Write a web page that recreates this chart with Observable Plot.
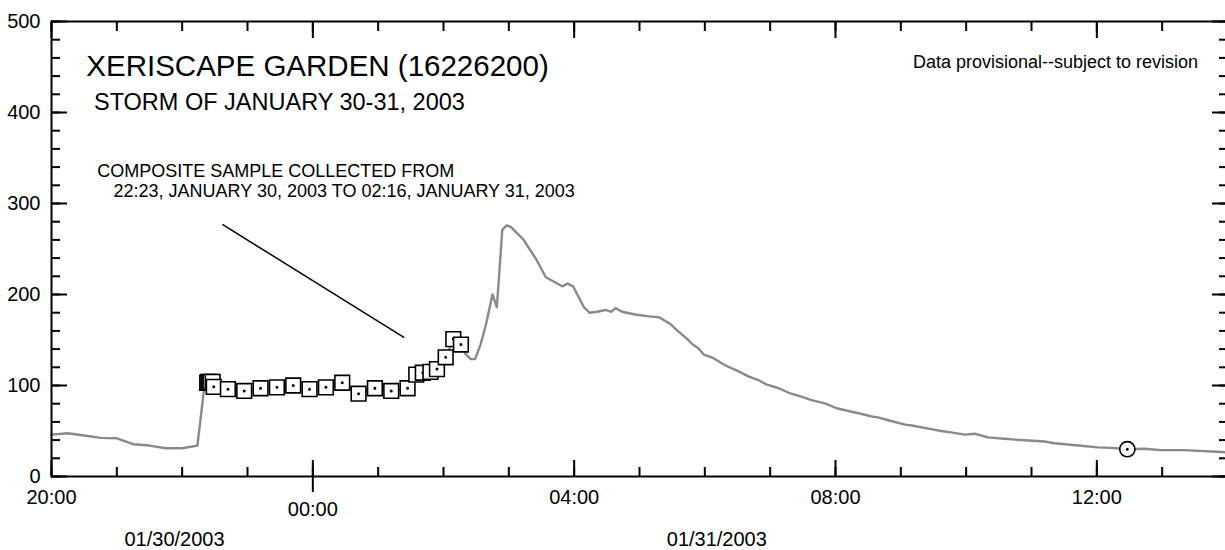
<!DOCTYPE html>
<html>
<head>
<meta charset="utf-8">
<script src="https://cdn.jsdelivr.net/npm/d3@7"></script>
<script src="https://cdn.jsdelivr.net/npm/@observablehq/plot@0.6"></script>
<style>
  body { margin: 0; background: #fff; overflow: hidden; }
  #chart { width: 1225px; height: 550px; overflow: hidden; }
</style>
</head>
<body>
<div id="chart"></div>
<script>
// discharge record, read as clock time (month-day hh:mm, 2003)
const flowTimes = [
  "01-30 20:00", "01-30 20:15", "01-30 20:30", "01-30 20:45", "01-30 21:00", "01-30 21:15",
  "01-30 21:30", "01-30 21:45", "01-30 22:00", "01-30 22:14", "01-30 22:20", "01-30 22:23",
  "01-30 22:29", "01-30 22:42", "01-30 22:57", "01-30 23:12", "01-30 23:27", "01-30 23:42",
  "01-30 23:57", "01-31 00:12", "01-31 00:27", "01-31 00:42", "01-31 00:57", "01-31 01:12",
  "01-31 01:27", "01-31 01:35", "01-31 01:41", "01-31 01:48", "01-31 01:54", "01-31 02:02",
  "01-31 02:09", "01-31 02:16", "01-31 02:20", "01-31 02:25", "01-31 02:29", "01-31 02:34",
  "01-31 02:39", "01-31 02:45", "01-31 02:49", "01-31 02:54", "01-31 02:58", "01-31 03:02",
  "01-31 03:07", "01-31 03:13", "01-31 03:25", "01-31 03:34", "01-31 03:49", "01-31 03:54",
  "01-31 03:59", "01-31 04:09", "01-31 04:14", "01-31 04:21", "01-31 04:29", "01-31 04:34",
  "01-31 04:38", "01-31 04:44", "01-31 04:56", "01-31 05:09", "01-31 05:18", "01-31 05:29",
  "01-31 05:35", "01-31 05:44", "01-31 05:48", "01-31 05:54", "01-31 05:59", "01-31 06:08",
  "01-31 06:19", "01-31 06:30", "01-31 06:40", "01-31 06:49", "01-31 06:57", "01-31 07:08",
  "01-31 07:17", "01-31 07:28", "01-31 07:38", "01-31 07:51", "01-31 08:01", "01-31 08:12",
  "01-31 08:23", "01-31 08:33", "01-31 08:39", "01-31 08:51", "01-31 09:04", "01-31 09:10",
  "01-31 09:28", "01-31 09:37", "01-31 09:46", "01-31 09:59", "01-31 10:08", "01-31 10:20",
  "01-31 10:35", "01-31 10:45", "01-31 10:57", "01-31 11:12", "01-31 11:21", "01-31 11:43",
  "01-31 12:01", "01-31 12:13", "01-31 12:28", "01-31 12:44", "01-31 12:59", "01-31 13:20",
  "01-31 13:55", "01-31 14:00"
];
const flowValues = [
  46, 47.5, 45, 42.5, 42, 35.5,
  34, 31, 31, 34, 95, 103,
  98.5, 96, 94, 97, 98, 100,
  96, 98, 103, 91, 97, 94,
  97, 112, 114, 115, 118, 131,
  151, 145, 135, 129, 129, 145,
  167, 200, 186, 271, 276, 274,
  268, 261, 239, 219, 209, 212,
  209, 186, 180, 181, 183, 181,
  185, 181, 178, 176, 175, 167,
  160, 151, 146, 141, 134, 130,
  122, 116, 110, 106, 101, 97,
  92, 88, 84, 80, 75, 72,
  69, 66, 65, 61, 57, 56,
  52, 50, 48.5, 46, 47, 43,
  41.5, 40.5, 39.5, 38.5, 36.5, 34,
  32, 31.5, 30, 30.5, 29, 29,
  27, 26.5
];

// composite sample subsamples (squares)
const sampleTimes = [
  "01-30 22:23", "01-30 22:24", "01-30 22:25", "01-30 22:26", "01-30 22:28", "01-30 22:29",
  "01-30 22:42", "01-30 22:57", "01-30 23:12", "01-30 23:27", "01-30 23:42", "01-30 23:57",
  "01-31 00:12", "01-31 00:27", "01-31 00:42", "01-31 00:57", "01-31 01:12", "01-31 01:27",
  "01-31 01:35", "01-31 01:41", "01-31 01:48", "01-31 01:54", "01-31 02:02", "01-31 02:09",
  "01-31 02:16"
];
const sampleValues = [
  103, 104, 103, 104, 104, 98.5,
  96, 94, 97, 98, 100, 96,
  98, 103, 91, 97, 94, 97,
  112, 114, 115, 118, 131, 151,
  145
];

// discrete sample (circle)
const grabTimes = ["01-31 12:28"];
const grabValues = [30];

const yMajorTicks = [0, 100, 200, 300, 400, 500];
const xMainLabels = ["01-30 20:00", "01-31 04:00", "01-31 08:00", "01-31 12:00"];
const xMidnightLabels = ["01-31 00:00"];
const xMajorTicks = ["01-30 20:00", "01-31 00:00", "01-31 04:00", "01-31 08:00", "01-31 12:00"];
const dateLabels = ["01/30/2003", "01/31/2003"];
const dateLabelTimes = ["01-30 21:53", "01-31 06:11"];

const noteTexts = [
  "XERISCAPE GARDEN (16226200)",
  "STORM OF JANUARY 30-31, 2003",
  "COMPOSITE SAMPLE COLLECTED FROM",
  "22:23, JANUARY 30, 2003 TO 02:16, JANUARY 31, 2003"
];
const noteTimes = ["01-30 20:32", "01-30 20:39", "01-30 20:42", "01-30 20:57"];
const noteValues = [451, 411, 335.5, 313.5];
const noteSizes = [29.5, 23.5, 18, 18];

const pointerFrom = ["01-30 22:37", 277];
const pointerTo = ["01-31 01:24", 152.7];

const t = s => new Date(`2003-${s.replace(" ", "T")}:00Z`);
const start = t("01-30 20:00"), end = t("01-31 14:00");

const flow = flowTimes.map((d, i) => ({time: t(d), value: flowValues[i]}));
const samples = sampleTimes.map((d, i) => ({time: t(d), value: sampleValues[i]}));
const grabs = grabTimes.map((d, i) => ({time: t(d), value: grabValues[i]}));

const hourTicks = d3.utcHour.range(start, new Date(+end + 1));
const yMinorTicks = d3.range(0, 501, 20);

// box (or circle) with a small ring in the middle, stroked in one path
const boxDot = {
  draw(ctx, size) {
    const h = Math.sqrt(size) / 2;
    ctx.rect(-h, -h, 2 * h, 2 * h);
    ctx.moveTo(0.7, 0);
    ctx.arc(0, 0, 0.7, 0, 2 * Math.PI);
  }
};
const ringDot = {
  draw(ctx, size) {
    const r = Math.sqrt(size / Math.PI);
    ctx.moveTo(r, 0);
    ctx.arc(0, 0, r, 0, 2 * Math.PI);
    ctx.moveTo(0.7, 0);
    ctx.arc(0, 0, 0.7, 0, 2 * Math.PI);
  }
};

const tickOpts = {fill: "none", stroke: "black", strokeWidth: 2};
const fmt = d3.utcFormat("%H:%M");

const chart = Plot.plot({
  width: 1228,
  height: 550,
  marginLeft: 51,
  marginRight: 1,
  marginTop: 21,
  marginBottom: 74,
  style: {fontFamily: "'Liberation Sans', Arial, sans-serif", color: "black", background: "white"},
  x: {type: "utc", domain: [start, end]},
  y: {domain: [0, 500]},
  marks: [
    Plot.line(flow, {x: "time", y: "value", stroke: "#8a8a8a", strokeWidth: 2.4}),
    Plot.link([0], {
      x1: () => t(pointerFrom[0]), y1: () => pointerFrom[1],
      x2: () => t(pointerTo[0]), y2: () => pointerTo[1],
      stroke: "black", strokeWidth: 1.5
    }),
    Plot.dot(samples, {x: "time", y: "value", symbol: boxDot, r: 8.3, fill: "white", stroke: "black", strokeWidth: 1.6}),
    Plot.dot(grabs, {x: "time", y: "value", symbol: ringDot, r: 7.6, fill: "white", stroke: "black", strokeWidth: 1.6}),

    // ticks (inward) on all four sides
    Plot.axisX(hourTicks, {anchor: "bottom", tickSize: -9, ...tickOpts}),
    Plot.axisX(xMajorTicks.map(t), {anchor: "bottom", tickSize: -16, ...tickOpts}),
    Plot.axisX(xMidnightLabels.map(t), {anchor: "bottom", tickSize: 16, ...tickOpts}),
    Plot.axisX(hourTicks, {anchor: "top", tickSize: -9, ...tickOpts}),
    Plot.axisX(xMajorTicks.map(t), {anchor: "top", tickSize: -16, ...tickOpts}),
    Plot.axisY(yMinorTicks, {anchor: "left", tickSize: -9, ...tickOpts}),
    Plot.axisY(yMajorTicks, {anchor: "left", tickSize: -16, ...tickOpts}),
    Plot.axisY(yMinorTicks, {anchor: "right", tickSize: -9, ...tickOpts}),
    Plot.axisY(yMajorTicks, {anchor: "right", tickSize: -16, ...tickOpts}),

    // tick labels
    Plot.axisY(yMajorTicks, {anchor: "left", tickSize: 0, tickPadding: 11, fontSize: 20, label: null}),
    Plot.axisX(xMainLabels.map(t), {anchor: "bottom", tickSize: 0, tickPadding: 13, fontSize: 20, tickFormat: fmt, label: null}),
    Plot.axisX(xMidnightLabels.map(t), {anchor: "bottom", tickSize: 0, tickPadding: 25, fontSize: 20, tickFormat: fmt, label: null}),
    Plot.text(dateLabels, {
      x: (d, i) => t(dateLabelTimes[i]), frameAnchor: "bottom", lineAnchor: "middle",
      dy: 63, fontSize: 20, text: d => d
    }),

    Plot.frame({stroke: "black", strokeWidth: 2}),

    // annotations
    Plot.text(noteTexts, {
      x: (d, i) => t(noteTimes[i]), y: (d, i) => noteValues[i],
      text: d => d, textAnchor: "start", fontSize: (d, i) => noteSizes[i]
    }),
    Plot.text(["Data provisional--subject to revision"], {
      x: () => t("01-31 13:33"), y: () => 455.3, text: d => d, textAnchor: "end", fontSize: 18
    })
  ]
});

chart.setAttribute("width", 1225);
chart.setAttribute("viewBox", "0 0 1225 550");
document.getElementById("chart").append(chart);
</script>
</body>
</html>
